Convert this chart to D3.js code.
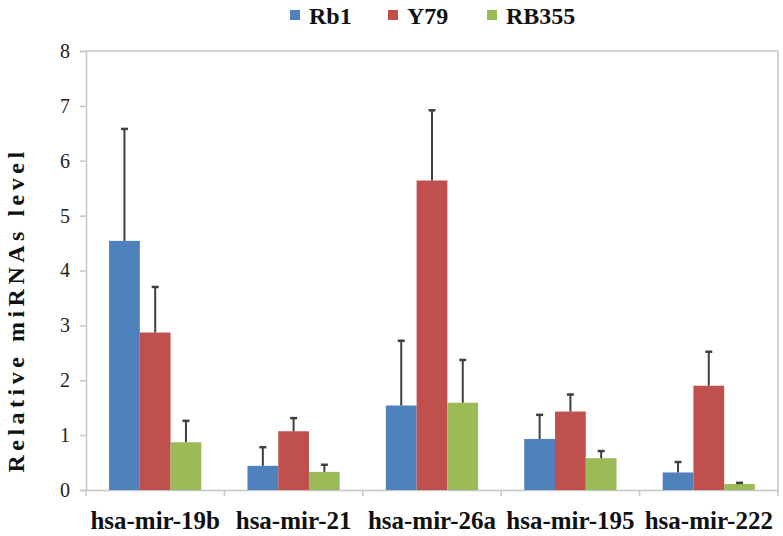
<!DOCTYPE html>
<html>
<head>
<meta charset="utf-8">
<script src="https://cdn.jsdelivr.net/npm/d3@7"></script>
<style>
  html, body { margin: 0; padding: 0; background: #fff; }
  svg { display: block; }
</style>
</head>
<body>
<svg id="chart" width="783" height="536" font-family="Liberation Serif"></svg>
<script>
const categories = ["hsa-mir-19b", "hsa-mir-21", "hsa-mir-26a", "hsa-mir-195", "hsa-mir-222"];
const seriesNames = ["Rb1", "Y79", "RB355"];
const seriesColors = ["#4f81bd", "#c0504d", "#9bbb59"];
const rb1Values   = [4.54, 0.44, 1.54, 0.93, 0.32];
const y79Values   = [2.87, 1.07, 5.64, 1.43, 1.90];
const rb355Values = [0.87, 0.33, 1.59, 0.58, 0.11];
const rb1Err   = [2.04, 0.34, 1.18, 0.44, 0.19];
const y79Err   = [0.83, 0.24, 1.28, 0.31, 0.62];
const rb355Err = [0.39, 0.13, 0.78, 0.13, 0.02];
const yTicks = [0, 1, 2, 3, 4, 5, 6, 7, 8];

(function () {
const values = [rb1Values, y79Values, rb355Values];
const errors = [rb1Err, y79Err, rb355Err];
const FONT = "Liberation Serif";

const svg = d3.select("#chart");
const pLeft = 86, pRight = 778, pTop = 51, pBottom = 490;

const x = d3.scaleBand().domain(categories).range([pLeft, pRight]).paddingInner(0).paddingOuter(0);
const xs = d3.scaleBand().domain(seriesNames).range([0, x.bandwidth()]).paddingInner(0).paddingOuter(0.75);
const y = d3.scaleLinear().domain([0, 8]).range([pBottom, pTop]);

const axisColor = "#c6c6c6";

// plot border (top and right)
svg.append("line").attr("x1", pLeft).attr("x2", pRight).attr("y1", pTop).attr("y2", pTop)
  .attr("stroke", axisColor).attr("stroke-width", 1.5);
svg.append("line").attr("x1", pRight).attr("x2", pRight).attr("y1", pTop).attr("y2", pBottom)
  .attr("stroke", axisColor).attr("stroke-width", 1.5);

// y axis
const yAxis = d3.axisLeft(y).tickValues(yTicks).tickSize(6).tickPadding(10).tickFormat(d3.format("d"));
const gy = svg.append("g").attr("transform", `translate(${pLeft},0)`).call(yAxis);
gy.attr("font-family", FONT);
gy.select(".domain").attr("stroke", axisColor).attr("stroke-width", 1.5);
gy.selectAll(".tick line").attr("stroke", axisColor).attr("stroke-width", 1.5);
gy.selectAll(".tick text").attr("font-family", FONT).attr("font-size", 20).attr("fill", "#222");

// x axis
const gx = svg.append("g").attr("transform", `translate(0,${pBottom})`)
  .call(d3.axisBottom(x).tickSize(0).tickPadding(21));
gx.attr("font-family", FONT);
gx.select(".domain").attr("stroke", axisColor).attr("stroke-width", 1.5);
gx.selectAll(".tick text").attr("font-family", FONT).attr("font-size", 25)
  .attr("font-weight", "bold").attr("fill", "#111");
// category boundary ticks
const bounds = categories.map(c => x(c)).concat([pRight]);
svg.append("g").selectAll("line").data(bounds).join("line")
  .attr("x1", d => d).attr("x2", d => d).attr("y1", pBottom).attr("y2", pBottom + 6)
  .attr("stroke", axisColor).attr("stroke-width", 1.5);

// bars
const groups = svg.append("g").selectAll("g").data(seriesNames).join("g")
  .attr("fill", (d, i) => seriesColors[i]);
groups.each(function (s, si) {
  d3.select(this).selectAll("rect").data(categories).join("rect")
    .attr("x", c => x(c) + xs(s))
    .attr("width", xs.bandwidth())
    .attr("y", (c, ci) => y(values[si][ci]))
    .attr("height", (c, ci) => y(0) - y(values[si][ci]));
});

// error bars
const errG = svg.append("g").attr("stroke", "#404040").attr("stroke-width", 2);
seriesNames.forEach((s, si) => {
  categories.forEach((c, ci) => {
    const cx = x(c) + xs(s) + xs.bandwidth() / 2;
    const v = values[si][ci], e = errors[si][ci];
    errG.append("line").attr("x1", cx).attr("x2", cx).attr("y1", y(v)).attr("y2", y(v + e));
    errG.append("line").attr("x1", cx - 3.5).attr("x2", cx + 3.5).attr("y1", y(v + e)).attr("y2", y(v + e))
      .attr("stroke-width", 2.5);
  });
});

// y title
svg.append("text")
  .attr("transform", `translate(24,${(145 + 475) / 2}) rotate(-90)`)
  .attr("text-anchor", "middle")
  .attr("font-family", FONT)
  .attr("font-size", 24).attr("font-weight", "bold").attr("letter-spacing", 4.5)
  .attr("fill", "#111")
  .text("Relative miRNAs level");

// legend
const legendX = [290, 388, 487];
const leg = svg.append("g");
seriesNames.forEach((s, i) => {
  leg.append("rect").attr("x", legendX[i]).attr("y", 10).attr("width", 10).attr("height", 10)
    .attr("fill", seriesColors[i]);
  leg.append("text").attr("x", legendX[i] + 19).attr("y", 24)
    .attr("font-family", FONT)
    .attr("font-size", 24).attr("font-weight", "bold").attr("fill", "#111")
    .text(s);
});
})();
</script>
</body>
</html>
